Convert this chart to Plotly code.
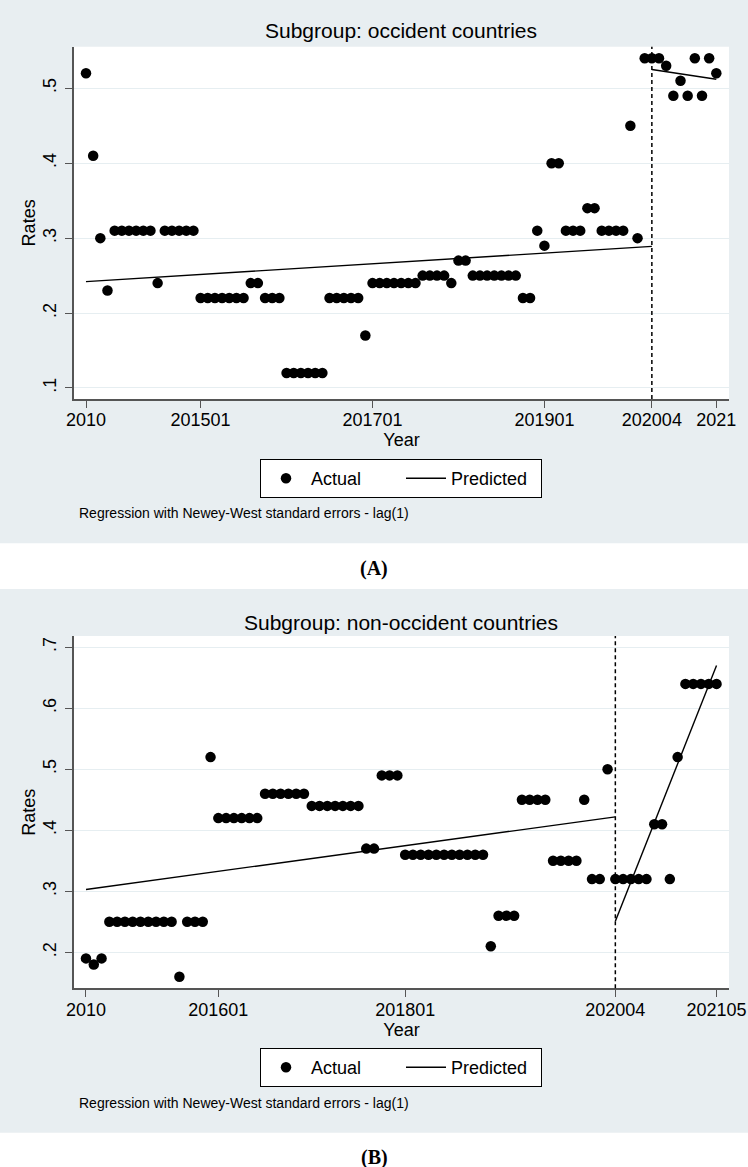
import plotly.graph_objects as go

W, H = 748, 1167

# ---------------- Panel A data (occident countries) ----------------
a_vals = ([0.52, 0.41, 0.30, 0.23] + [0.31] * 6 + [0.24] + [0.31] * 5 + [0.22] * 7
          + [0.24] * 2 + [0.22] * 3 + [0.12] * 6 + [0.22] * 5 + [0.17] + [0.24] * 7
          + [0.25] * 4 + [0.24] + [0.27] * 2 + [0.25] * 7 + [0.22] * 2 + [0.31, 0.29]
          + [0.40] * 2 + [0.31] * 3 + [0.34] * 2 + [0.31] * 4 + [0.45, 0.30]
          + [0.54] * 3 + [0.53, 0.49, 0.51, 0.49, 0.54, 0.49, 0.54, 0.52])
a_t = list(range(len(a_vals)))
a_pre_t = [0, 79]
a_pre_v = [0.242, 0.289]
a_post_t = [79, 88]
a_post_v = [0.525, 0.512]
a_break = 79
a_xtickvals = [0, 16, 40, 64, 79, 88]
a_xticktext = ["2010", "201501", "201701", "201901", "202004", "2021"]
a_ytickvals = [0.1, 0.2, 0.3, 0.4, 0.5]
a_yticktext = [".1", ".2", ".3", ".4", ".5"]

# ---------------- Panel B data (non-occident countries) ----------------
b_vals = ([0.19, 0.18, 0.19] + [0.25] * 9 + [0.16] + [0.25] * 3 + [0.52] + [0.42] * 6
          + [0.46] * 6 + [0.44] * 7 + [0.37] * 2 + [0.49] * 3 + [0.36] * 11 + [0.21]
          + [0.26] * 3 + [0.45] * 4 + [0.35] * 4 + [0.45] + [0.32] * 2 + [0.50]
          + [0.32] * 5 + [0.41] * 2 + [0.32, 0.52] + [0.64] * 5)
b_t = list(range(len(b_vals)))
b_pre_t = [0, 68]
b_pre_v = [0.303, 0.422]
b_post_t = [68, 81]
b_post_v = [0.251, 0.670]
b_break = 68
b_xtickvals = [0, 17, 41, 68, 81]
b_xticktext = ["2010", "201601", "201801", "202004", "202105"]
b_ytickvals = [0.2, 0.3, 0.4, 0.5, 0.6, 0.7]
b_yticktext = [".2", ".3", ".4", ".5", ".6", ".7"]

BG = "#E8EEF1"
GRID = "#E6EEF1"
AXIS = "#555555"
FONT = "Liberation Sans, Arial, sans-serif"


def px(x):
    return x / W


def py(y):
    return 1 - y / H


fig = go.Figure()

# Panel A traces
fig.add_trace(go.Scatter(x=a_t, y=a_vals, mode="markers", name="Actual",
                         marker=dict(color="black", size=10.5),
                         xaxis="x", yaxis="y", legend="legend"))
fig.add_trace(go.Scatter(x=a_pre_t, y=a_pre_v, mode="lines", name="Predicted",
                         line=dict(color="black", width=1.4),
                         xaxis="x", yaxis="y", legend="legend"))
fig.add_trace(go.Scatter(x=a_post_t, y=a_post_v, mode="lines", name="Predicted",
                         line=dict(color="black", width=1.4), showlegend=False,
                         xaxis="x", yaxis="y"))
# Panel B traces
fig.add_trace(go.Scatter(x=b_t, y=b_vals, mode="markers", name="Actual",
                         marker=dict(color="black", size=10.5),
                         xaxis="x2", yaxis="y2", legend="legend2"))
fig.add_trace(go.Scatter(x=b_pre_t, y=b_pre_v, mode="lines", name="Predicted",
                         line=dict(color="black", width=1.4),
                         xaxis="x2", yaxis="y2", legend="legend2"))
fig.add_trace(go.Scatter(x=b_post_t, y=b_post_v, mode="lines", name="Predicted",
                         line=dict(color="black", width=1.4), showlegend=False,
                         xaxis="x2", yaxis="y2"))

xdom = [px(74), px(729)]
common_x = dict(showline=True, linecolor=AXIS, linewidth=1.5, ticks="outside",
                ticklen=7, tickwidth=1.2, tickcolor=AXIS, showgrid=False,
                zeroline=False, tickfont=dict(size=18, color="black"),
                tickmode="array", automargin=False, ticklabelstandoff=-3)
common_y = dict(showline=True, linecolor=AXIS, linewidth=1.5, ticks="outside",
                ticklen=7, tickwidth=1.2, tickcolor=AXIS, showgrid=True,
                gridcolor=GRID, gridwidth=1.2, zeroline=False,
                tickfont=dict(size=18, color="black"), tickangle=-90,
                tickmode="array", automargin=False, ticklabelstandoff=2)

legend_common = dict(orientation="h", xanchor="center", yanchor="middle",
                     bgcolor="white", bordercolor="black", borderwidth=1,
                     font=dict(size=18), itemwidth=40, tracegroupgap=0,
                     entrywidth=85, entrywidthmode="pixels")

layout = dict(
    width=W, height=H, margin=dict(l=0, r=0, t=0, b=0),
    paper_bgcolor="white", plot_bgcolor="white",
    font=dict(family=FONT, color="black"),
    xaxis=dict(common_x, domain=xdom, anchor="y", range=[-1.675, 89.77],
               tickvals=a_xtickvals, ticktext=a_xticktext,
               title=dict(text="Year", font=dict(size=18), standoff=0)),
    yaxis=dict(common_y, domain=[py(399), py(46.7)], anchor="x",
               range=[0.0853, 0.5555], tickvals=a_ytickvals, ticktext=a_yticktext,
               title=dict(text="Rates", font=dict(size=18), standoff=0)),
    xaxis2=dict(common_x, domain=xdom, anchor="y2", range=[-1.54, 82.6],
                tickvals=b_xtickvals, ticktext=b_xticktext,
                title=dict(text="Year", font=dict(size=18), standoff=0)),
    yaxis2=dict(common_y, domain=[py(988.3), py(636)], anchor="x2",
                range=[0.141, 0.7185], tickvals=b_ytickvals, ticktext=b_yticktext,
                title=dict(text="Rates", font=dict(size=18), standoff=0)),
    legend=dict(legend_common, x=px(401), y=py(478.5)),
    legend2=dict(legend_common, x=px(401), y=py(1067.5)),
)
fig.update_layout(**layout)

# Panel backgrounds (graph regions)
fig.add_shape(type="rect", xref="paper", yref="paper", x0=0, x1=1,
              y0=py(543.3), y1=1, fillcolor=BG, line_width=0, layer="below")
fig.add_shape(type="rect", xref="paper", yref="paper", x0=0, x1=1,
              y0=py(1132.7), y1=py(589), fillcolor=BG, line_width=0, layer="below")
# white plot regions behind data
fig.add_shape(type="rect", xref="paper", yref="paper", x0=xdom[0], x1=xdom[1],
              y0=py(399), y1=py(46.7), fillcolor="white", line_width=0, layer="below")
fig.add_shape(type="rect", xref="paper", yref="paper", x0=xdom[0], x1=xdom[1],
              y0=py(988.3), y1=py(636), fillcolor="white", line_width=0, layer="below")

# Break lines
fig.add_shape(type="line", xref="x", yref="y domain", x0=a_break, x1=a_break,
              y0=0, y1=1, line=dict(color="black", width=1.5, dash="4px,3px"))
fig.add_shape(type="line", xref="x2", yref="y2 domain", x0=b_break, x1=b_break,
              y0=0, y1=1, line=dict(color="black", width=1.5, dash="4px,3px"))

# Titles, notes, panel labels
ann = [
    dict(text="Subgroup: occident countries", x=px(401), y=py(31), size=21,
         xanchor="center", family=FONT),
    dict(text="Subgroup: non-occident countries", x=px(401), y=py(622), size=21,
         xanchor="center", family=FONT),
    dict(text="Regression with Newey-West standard errors - lag(1)", x=px(77),
         y=py(513), size=14, xanchor="left", family=FONT),
    dict(text="Regression with Newey-West standard errors - lag(1)", x=px(77),
         y=py(1103), size=14, xanchor="left", family=FONT),
    dict(text="<b>(A)</b>", x=px(374), y=py(568), size=20, xanchor="center",
         family="Liberation Serif, Times New Roman, serif"),
    dict(text="<b>(B)</b>", x=px(374), y=py(1157), size=20, xanchor="center",
         family="Liberation Serif, Times New Roman, serif"),
]
for a in ann:
    fig.add_annotation(text=a["text"], x=a["x"], y=a["y"], xref="paper",
                       yref="paper", xanchor=a["xanchor"], yanchor="middle",
                       showarrow=False,
                       font=dict(size=a["size"], family=a["family"], color="black"))

fig.write_html("out.html", config={"displayModeBar": False},
               post_script="document.body.style.margin='0px';"
                           "document.body.style.overflow='hidden';")
